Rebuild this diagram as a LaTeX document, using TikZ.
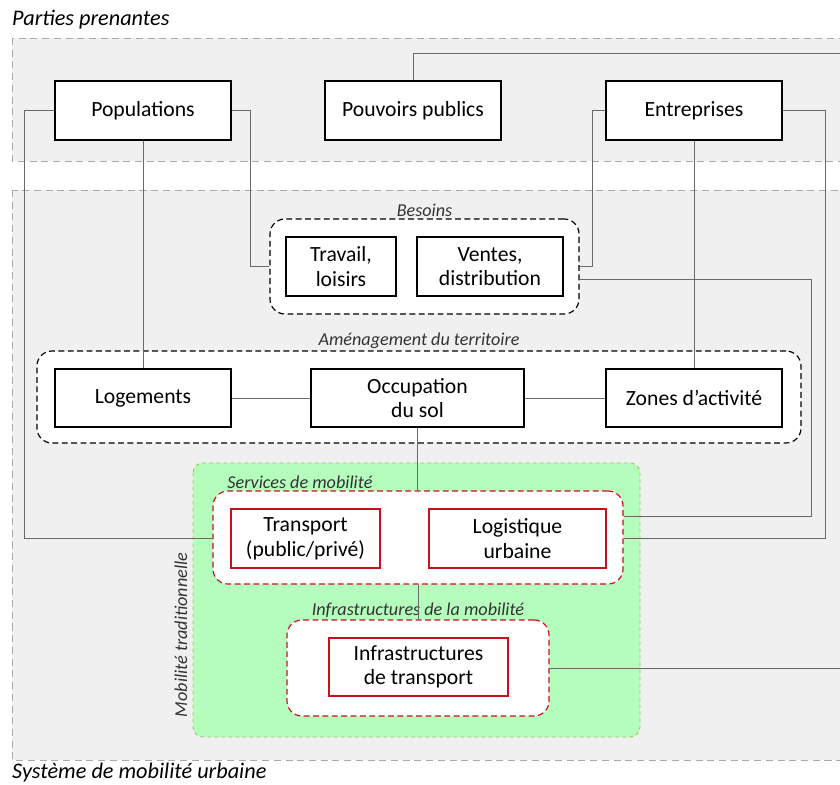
\documentclass[tikz,border=0pt]{standalone}
\usepackage{fontspec}
\setmainfont{Carlito}
\usepackage{tikz}
\usetikzlibrary{positioning, calc}
\definecolor{zonefill}{RGB}{240,240,240}
\definecolor{zoneline}{RGB}{170,170,170}
\definecolor{linkgray}{RGB}{105,105,105}
\definecolor{mobgreen}{RGB}{180,253,188}
\definecolor{mobgreenline}{RGB}{146,208,80}
\definecolor{mobred}{RGB}{200,16,26}

\begin{document}
\begin{tikzpicture}[
    x=0.03cm, y=-0.03cm,
    zone/.style={draw=zoneline, fill=zonefill, dashed, dash pattern=on 6pt off 4pt, line width=0.8pt},
    group/.style={draw, fill=white, dashed, dash pattern=on 5pt off 3pt, line width=1pt, rounded corners=0.45cm, inner sep=0pt},
    redgroup/.style={group, draw=mobred},
    actor/.style={draw, thick, line width=1.2pt, fill=white, minimum width=5.28cm, minimum height=1.77cm, font=\fontsize{18.5}{21}\selectfont, align=center, inner sep=2pt},
    service/.style={actor, draw=mobred, line width=1pt},
    grouplabel/.style={font=\fontsize{15.5}{18}\selectfont\itshape, text=black!80, inner sep=1pt},
    title/.style={font=\fontsize{19}{22}\selectfont\itshape, anchor=west, inner sep=0pt},
    link/.style={draw=linkgray, line width=0.7pt}
]
    \useasboundingbox (0,0) rectangle (840,784);

    % Zones
    \draw[zone] (12,38) rectangle (880,161);
    \draw[zone] (12,190) rectangle (880,760);
    \draw[draw=mobgreenline, fill=mobgreen, dashed, line width=0.8pt, rounded corners=0.3cm] (193,463) rectangle (640,737);

    % Titles
    \node[title] (partiestitle) at (12,20) {Parties prenantes};
    \node[title] (systemetitle) at (12,773) {Système de mobilité urbaine};

    % Parties prenantes
    \node[actor] (pop) at (143,110.5) {Populations};
    \node[actor] (pouv) at (413,110.5) {Pouvoirs publics};
    \node[actor] (entr) at (694,110.5) {Entreprises};

    % Besoins
    \node[group, minimum width=9.27cm, minimum height=2.85cm] (besoins) at (424.5,266.5) {};
    \node[grouplabel, above=0pt of besoins] (besoinslabel) {Besoins};
    \node[actor, minimum width=3.3cm] (travail) at (341,266.5) {Travail,\\loisirs};
    \node[actor, minimum width=4.38cm] (ventes) at (490,266.5) {Ventes,\\distribution};

    % Amenagement du territoire
    \node[group, minimum width=22.92cm, minimum height=2.76cm] (amenag) at (419,397) {};
    \node[grouplabel, above=0pt of amenag] (amenaglabel) {Aménagement du territoire};
    \node[actor, minimum height=1.74cm] (logements) at (143,398) {Logements};
    \node[actor, minimum width=6.39cm, minimum height=1.74cm] (occupation) at (417.5,398) {Occupation\\du sol};
    \node[actor, minimum height=1.74cm] (zones) at (694,398) {Zones d’activité};

    % Mobilite traditionnelle
    \node[grouplabel, rotate=90] (tradlabel) at (181,635) {Mobilité traditionnelle};
    \node[redgroup, minimum width=12.3cm, minimum height=2.79cm] (services) at (418,537.5) {};
    \node[grouplabel, anchor=south west] (serviceslabel) at (226,490) {Services de mobilité};
    \node[service, minimum width=4.47cm] (transport) at (305.5,538.5) {Transport\\(public/privé)};
    \node[service, minimum width=5.31cm] (logistique) at (517.5,538.5) {Logistique\\urbaine};

    \node[redgroup, minimum width=7.86cm, minimum height=2.88cm] (infra) at (418,668) {};
    \node[grouplabel, above=0pt of infra] (infralabel) {Infrastructures de la mobilité};
    \node[service, minimum width=5.37cm, minimum height=1.74cm] (infratransport) at (418.5,667) {Infrastructures\\de transport};

    % Free ends
    \coordinate (pouvend) at (880,53);
    \coordinate (infraend) at (880,668);

    % Connections
    \draw[link] (pouv.north) |- (pouvend);
    \draw[link] (pop.west) -- ++(-30,0) |- (transport -| services.west);
    \draw[link] (pop.east) -- ++(19,0) |- (travail -| besoins.west);
    \draw[link] (pop.south) -- (logements.north);
    \draw[link] (entr.west) -- ++(-13,0) |- (ventes -| besoins.east);
    \draw[link] ($(besoins.east)+(0,12.5)$) -- ++(232,0) |- ($(services.east)+(0,-21.5)$);
    \draw[link] (entr.east) -- ++(43,0) |- (logistique -| services.east);
    \draw[link] (entr.south) -- (zones.north);
    \draw[link] (logements) -- (occupation);
    \draw[link] (occupation) -- (zones);
    \draw[link] (occupation.south) -- (occupation.south |- services.north);
    \draw[link] (services.south) -- (infra.north);
    \draw[link] (infra.east) -- (infraend);
\end{tikzpicture}
\end{document}
